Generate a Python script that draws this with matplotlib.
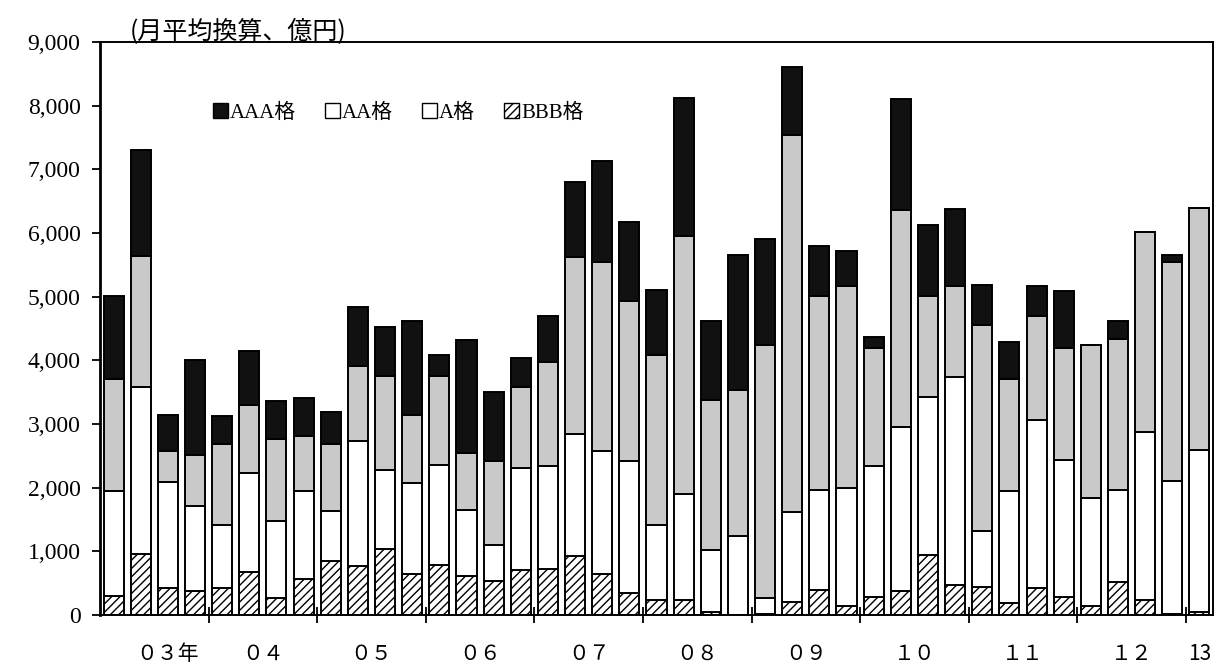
import numpy as np
import matplotlib
matplotlib.use('Agg')
import matplotlib.pyplot as plt
from matplotlib.patches import Patch

plt.rcParams['font.family'] = ['Liberation Serif', 'Noto Sans CJK JP']
plt.rcParams['hatch.linewidth'] = 1.0

# quarterly data, 2003Q1 .. 2013Q1 (monthly average, 100 million yen)
bbb = [300, 960, 430, 380, 420, 670, 260, 560, 850, 770, 1030, 650, 790, 610,
       540, 710, 720, 930, 640, 350, 240, 230, 40, 0, 10, 210, 390, 140, 290,
       370, 940, 470, 440, 190, 420, 290, 140, 520, 240, 10, 50]
a = [1640, 2620, 1660, 1330, 990, 1560, 1220, 1380, 780, 1970, 1240, 1430, 1570,
     1040, 560, 1600, 1620, 1910, 1930, 2070, 1170, 1670, 980, 1240, 260, 1410,
     1570, 1860, 2050, 2590, 2490, 3270, 880, 1750, 2640, 2150, 1700, 1450,
     2640, 2100, 2540]
aa = [1760, 2060, 490, 800, 1270, 1070, 1290, 870, 1060, 1170, 1490, 1060, 1400,
      900, 1320, 1270, 1640, 2780, 2970, 2510, 2670, 4050, 2350, 2290, 3970,
      5920, 3050, 3160, 1850, 3400, 1580, 1420, 3240, 1760, 1630, 1750, 2400,
      2370, 3130, 3440, 3800]
aaa = [1310, 1670, 560, 1500, 440, 840, 590, 600, 500, 920, 770, 1480, 320, 1770,
       1090, 460, 720, 1180, 1590, 1250, 1030, 2170, 1250, 2120, 1660, 1060, 790,
       550, 180, 1740, 1110, 1210, 630, 590, 470, 900, 0, 270, 0, 100, 0]

year_labels = ['０３年', '０４', '０５', '０６', '０７', '０８', '０９', '１０', '１１', '１２', '13']

x = np.arange(len(bbb))
bbb = np.array(bbb)
a = np.array(a)
aa = np.array(aa)
aaa = np.array(aaa)

fig = plt.figure(figsize=(12.19, 6.72), dpi=100)
ax = fig.add_axes([100 / 1219, 1 - 615 / 672, 1113 / 1219, 573 / 672])

w = 0.74
lw = 1.4
ax.bar(x, bbb, w, color='white', edgecolor='black', hatch='////', linewidth=lw)
ax.bar(x, a, w, bottom=bbb, color='white', edgecolor='black', linewidth=lw)
ax.bar(x, aa, w, bottom=bbb + a, color='#c9c9c9', edgecolor='black', linewidth=lw)
ax.bar(x, aaa, w, bottom=bbb + a + aa, color='#111111', edgecolor='black', linewidth=lw)

ax.set_xlim(-0.5, len(x) - 0.5)
ax.set_ylim(0, 9000)
ax.set_yticks(np.arange(0, 9001, 1000))
ax.set_yticklabels(['0' if v == 0 else f'{v:,}' for v in range(0, 9001, 1000)], fontsize=17)
ax.tick_params(axis='y', direction='out', length=6, width=1.3, pad=8)

# year boundaries as major ticks, year names as minor tick labels
ax.set_xticks(np.arange(3.5, len(x), 4))
ax.set_xticklabels([])
ax.tick_params(axis='x', which='major', direction='inout', length=12, width=1.3)
label_pos = [2.0] + [1.5 + 4 * i for i in range(1, 10)] + [40]
ax.set_xticks(label_pos, minor=True)
ax.set_xticklabels(year_labels, minor=True, fontsize=15, family=['Noto Sans CJK JP'])
ax.tick_params(axis='x', which='minor', length=0, pad=20)

for s in ax.spines.values():
    s.set_linewidth(1.4)
ax.spines['left'].set_linewidth(2.0)

ax.text(0.027, 0.995, '(月平均換算、億円)', transform=ax.transAxes, fontsize=18,
        va='bottom', ha='left', family=['Noto Sans CJK JP'])

handles = [Patch(facecolor='#111111', edgecolor='black', label='AAA格'),
           Patch(facecolor='white', edgecolor='black', label='AA格'),
           Patch(facecolor='white', edgecolor='black', label='A格'),
           Patch(facecolor='white', edgecolor='black', hatch='////', label='BBB格')]
ax.legend(handles=handles, loc='center left', bbox_to_anchor=(0.085, 0.876), ncol=4,
          frameon=False, fontsize=15, handlelength=0.7, handleheight=0.7,
          handletextpad=0.1, columnspacing=1.4)

fig.savefig('out.png', dpi=100)
